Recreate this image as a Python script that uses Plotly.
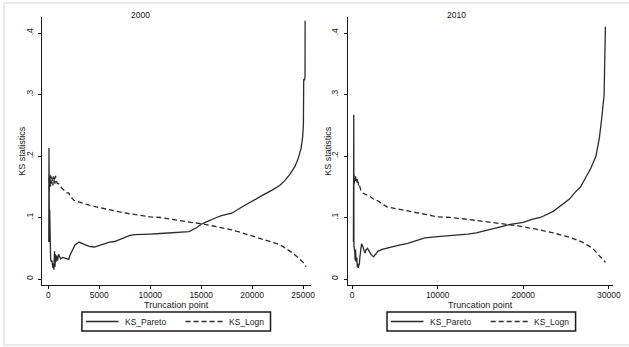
import plotly.graph_objects as go

# ---------------- data ----------------
panel_titles = ["2000", "2010"]
series_names = ["KS_Pareto", "KS_Logn"]

pareto_2000_x = [40, 60, 80, 100, 130, 150, 180, 220, 260, 300, 350, 400, 450, 500, 550, 600, 650, 700, 750,
                 800, 900, 1000, 1100, 1200, 1400, 1600, 1800, 2000, 2100, 2300, 2600, 3000, 3300, 3700, 4000,
                 4500, 5000, 5500, 6000, 6500, 7000, 7500, 8000, 8500, 9000, 10000, 11000, 12000, 13000, 13800,
                 14500, 15000, 15500, 16000, 16500, 17000, 18000, 19000, 20000, 21000, 22000, 22700, 23200,
                 23700, 24200, 24500, 24800, 24950, 25030, 25060, 25150, 25190, 25200]
pareto_2000_y = [0.06, 0.213, 0.10, 0.06, 0.112, 0.07, 0.045, 0.033, 0.03, 0.028, 0.03, 0.022, 0.018, 0.025,
                 0.015, 0.045, 0.02, 0.04, 0.028, 0.038, 0.03, 0.04, 0.035, 0.033, 0.035, 0.034, 0.033, 0.032,
                 0.038, 0.045, 0.055, 0.06, 0.058, 0.055, 0.053, 0.052, 0.055, 0.058, 0.06, 0.061, 0.064, 0.068,
                 0.071, 0.072, 0.072, 0.073, 0.074, 0.075, 0.076, 0.077, 0.083, 0.089, 0.093, 0.097, 0.100,
                 0.103, 0.107, 0.117, 0.127, 0.136, 0.145, 0.152, 0.160, 0.170, 0.183, 0.195, 0.212, 0.23,
                 0.25, 0.324, 0.324, 0.33, 0.42]

logn_2000_x = [60, 100, 150, 200, 250, 300, 350, 400, 450, 500, 550, 600, 650, 700, 750, 800, 900, 1000, 1200,
               1500, 1800, 2000, 2100, 2500, 3000, 3500, 4000, 4500, 5000, 5500, 6000, 7000, 8000, 9000, 10000,
               11000, 12000, 13000, 14000, 15000, 16000, 17000, 18000, 19000, 20000, 21000, 22000, 22500, 23000,
               23500, 24000, 24500, 25000, 25300]
logn_2000_y = [0.165, 0.145, 0.17, 0.15, 0.168, 0.155, 0.165, 0.16, 0.152, 0.167, 0.158, 0.165, 0.155, 0.168,
               0.16, 0.158, 0.155, 0.155, 0.15, 0.145, 0.14, 0.14, 0.135, 0.128, 0.125, 0.122, 0.12, 0.118,
               0.116, 0.114, 0.112, 0.109, 0.106, 0.103, 0.101, 0.1, 0.097, 0.094, 0.092, 0.09, 0.087, 0.083,
               0.08, 0.075, 0.07, 0.065, 0.06, 0.057, 0.053, 0.048, 0.042, 0.035, 0.027, 0.02]

pareto_2010_x = [150, 190, 210, 250, 300, 350, 400, 450, 500, 550, 600, 650, 700, 750, 800, 850, 900, 1000,
                 1100, 1200, 1300, 1400, 1500, 1600, 1800, 2000, 2200, 2500, 2800, 3000, 3500, 4000, 5000, 5500,
                 6500, 7500, 8500, 10000, 11000, 12000, 13500, 14500, 15800, 16500, 17700, 18500, 20000, 21000,
                 22000, 23500, 24000, 25400, 26000, 26700, 27300, 27900, 28500, 28900, 29200, 29400, 29450, 29600]
pareto_2010_y = [0.06, 0.267, 0.053, 0.05, 0.045, 0.03, 0.048, 0.03, 0.028, 0.035, 0.02, 0.025, 0.018, 0.022,
                 0.02, 0.025, 0.035, 0.05, 0.057, 0.055, 0.05, 0.045, 0.042, 0.047, 0.05, 0.045, 0.04, 0.036,
                 0.042, 0.045, 0.048, 0.05, 0.053, 0.055, 0.058, 0.063, 0.067, 0.069, 0.07, 0.071, 0.073, 0.075,
                 0.079, 0.082, 0.086, 0.089, 0.092, 0.097, 0.1, 0.11, 0.115, 0.13, 0.14, 0.15, 0.165, 0.18, 0.2,
                 0.23, 0.265, 0.30, 0.30, 0.41]

logn_2010_x = [190, 250, 300, 350, 400, 450, 500, 550, 600, 650, 700, 750, 800, 900, 1000, 1200, 1500, 1700,
               2000, 2500, 3000, 4100, 5600, 7100, 8600, 10000, 11600, 13500, 15800, 17700, 19600, 21500, 23500,
               25400, 26900, 28100, 28800, 29600]
logn_2010_y = [0.17, 0.155, 0.165, 0.16, 0.168, 0.157, 0.163, 0.155, 0.162, 0.158, 0.16, 0.152, 0.155, 0.15,
               0.145, 0.14, 0.138, 0.137, 0.135, 0.13, 0.127, 0.117, 0.113, 0.11, 0.105, 0.101, 0.1, 0.097, 0.093,
               0.09, 0.086, 0.081, 0.075, 0.068, 0.06, 0.05, 0.04, 0.027]

x_ticks_2000 = [0, 5000, 10000, 15000, 20000, 25000]
x_ticks_2010 = [0, 10000, 20000, 30000]
y_tick_vals = [0, 0.1, 0.2, 0.3, 0.4]
y_tick_text = ["0", ".1", ".2", ".3", ".4"]
x_title = "Truncation point"
y_title = "KS statistics"

# ---------------- figure ----------------
W, H = 629, 347
FONT = "Liberation Sans, Arial, sans-serif"
INK = "#1a1a1a"
LINE = "#2b2b2b"
DASH = "5px,3px"


def px_x(p):
    return p / W


def px_y(p):
    return 1 - p / H


fig = go.Figure()

fig.add_trace(go.Scatter(x=pareto_2000_x, y=pareto_2000_y, mode="lines", name=series_names[0],
                         line=dict(color=LINE, width=1.3), xaxis="x", yaxis="y"))
fig.add_trace(go.Scatter(x=logn_2000_x, y=logn_2000_y, mode="lines", name=series_names[1],
                         line=dict(color=LINE, width=1.3, dash=DASH), xaxis="x", yaxis="y"))
fig.add_trace(go.Scatter(x=pareto_2010_x, y=pareto_2010_y, mode="lines", name=series_names[0],
                         line=dict(color=LINE, width=1.3), xaxis="x2", yaxis="y2"))
fig.add_trace(go.Scatter(x=logn_2010_x, y=logn_2010_y, mode="lines", name=series_names[1],
                         line=dict(color=LINE, width=1.3, dash=DASH), xaxis="x2", yaxis="y2"))

axis_common = dict(showline=True, linecolor=INK, linewidth=1, ticks="outside", ticklen=3, tickcolor=INK,
                   tickwidth=1, showgrid=False, zeroline=False, tickfont=dict(family=FONT, size=8.5, color=INK))

y_dom = [px_y(285), px_y(17)]
y_range = [(279 - 285) / 615, (279 - 17) / 615]

fig.update_layout(
    width=W, height=H,
    margin=dict(l=0, r=0, t=0, b=0),
    paper_bgcolor="white", plot_bgcolor="white",
    font=dict(family=FONT, color=INK),
    showlegend=False,
    xaxis=dict(domain=[px_x(43), px_x(315)], range=[-581, 25775], tickvals=x_ticks_2000,
               ticktext=[str(v) for v in x_ticks_2000], ticklabelstandoff=-1, anchor="y", **axis_common),
    yaxis=dict(domain=y_dom, range=y_range, tickvals=y_tick_vals, ticktext=y_tick_text, tickangle=-90,
               ticklabelstandoff=2, anchor="x", **axis_common),
    xaxis2=dict(domain=[px_x(352), px_x(621)], range=[-540, 30500], tickvals=x_ticks_2010,
                ticktext=[str(v) for v in x_ticks_2010], ticklabelstandoff=-1, anchor="y2", **axis_common),
    yaxis2=dict(domain=y_dom, range=y_range, tickvals=y_tick_vals, ticktext=y_tick_text, tickangle=-90,
                ticklabelstandoff=2, anchor="x2", **axis_common),
)

# outer light frame
fig.add_shape(type="rect", xref="paper", yref="paper", x0=px_x(4), x1=1.05, y0=px_y(345), y1=px_y(3),
              line=dict(color="#e4e4e4", width=1.5), fillcolor="rgba(0,0,0,0)", layer="below")

ann_font = dict(family=FONT, size=8.5, color=INK)
for title, cx in zip(panel_titles, [142.5, 462.5]):
    fig.add_annotation(text=title, x=px_x(cx), y=px_y(15), xref="paper", yref="paper",
                       showarrow=False, xanchor="center", yanchor="middle", font=ann_font)
for cx in [179, 486.5]:
    fig.add_annotation(text=x_title, x=px_x(cx), y=px_y(305), xref="paper", yref="paper",
                       showarrow=False, xanchor="center", yanchor="middle",
                       font=dict(family=FONT, size=9, color=INK))
for cx in [22, 332]:
    fig.add_annotation(text=y_title, x=px_x(cx), y=px_y(151), xref="paper", yref="paper",
                       showarrow=False, xanchor="center", yanchor="middle", textangle=-90,
                       font=dict(family=FONT, size=9, color=INK))

# legend boxes (one per panel), keyed to the series names
for left in [83, 392]:
    fig.add_shape(type="rect", xref="paper", yref="paper", x0=px_x(left), x1=px_x(left + 191),
                  y0=px_y(331), y1=px_y(312), line=dict(color=INK, width=1.5), fillcolor="white")
    ky = px_y(321.5)
    fig.add_shape(type="line", xref="paper", yref="paper", x0=px_x(left + 4), x1=px_x(left + 37),
                  y0=ky, y1=ky, line=dict(color=LINE, width=1.3))
    fig.add_shape(type="line", xref="paper", yref="paper", x0=px_x(left + 105), x1=px_x(left + 143),
                  y0=ky, y1=ky, line=dict(color=LINE, width=1.3, dash=DASH))
    fig.add_annotation(text=series_names[0], x=px_x(left + 42), y=ky, xref="paper", yref="paper",
                       showarrow=False, xanchor="left", yanchor="middle", font=ann_font)
    fig.add_annotation(text=series_names[1], x=px_x(left + 147), y=ky, xref="paper", yref="paper",
                       showarrow=False, xanchor="left", yanchor="middle", font=ann_font)

fig.write_html("out.html", config={"displayModeBar": False},
               post_script="document.body.style.margin='0px';")
